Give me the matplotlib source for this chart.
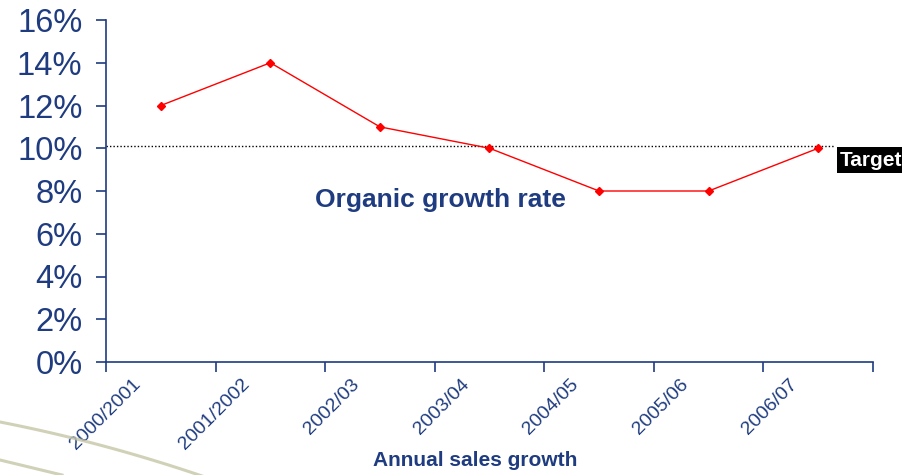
import numpy as np
import matplotlib
matplotlib.use('Agg')
import matplotlib.pyplot as plt
from matplotlib.lines import Line2D
from matplotlib.transforms import ScaledTranslation

plt.rcParams['font.family'] = ['Liberation Sans', 'DejaVu Sans']

BLUE = '#1f3c80'
RED = '#ff0000'

years = ['2000/2001', '2001/2002', '2002/03', '2003/04', '2004/05', '2005/06', '2006/07']
growth = [12, 14, 11, 10, 8, 8, 10]  # organic growth, %
target = 10.1
y_ticks = [0, 2, 4, 6, 8, 10, 12, 14, 16]

fig = plt.figure(figsize=(9.03, 4.75), dpi=100)
ax = fig.add_axes([106 / 903, 1 - 362 / 475, 767 / 903, 342 / 475])

# decorative swoosh bottom-left
t = np.linspace(0, 1, 50)
fig.add_artist(Line2D(t * 205 / 903, (53 - 40 * t - 15 * t * t) / 475,
                      color='#c6c6a6', lw=2.2, alpha=0.8, transform=fig.transFigure))
fig.add_artist(Line2D(t * 62 / 903, (15 - 15 * t) / 475,
                      color='#c6c6a6', lw=2.2, alpha=0.8, transform=fig.transFigure))

x = np.arange(len(years)) + 0.5
ax.plot(x, growth, color=RED, lw=1, marker='D', ms=4.5, zorder=3)
ax.axhline(target, xmin=0, xmax=(len(years) - 0.35) / len(years),
           color='black', ls=(0, (1, 1.5)), lw=1)

ax.set_xlim(0, len(years))
ax.set_ylim(0, 16)
ax.set_yticks(y_ticks)
ax.set_yticklabels([f'{v}%' for v in y_ticks], fontsize=23.5, color=BLUE)
ax.set_xticks(np.arange(len(years) + 1))
ax.set_xticklabels([])
ax.set_xticks(x, minor=True)
ax.set_xticklabels(years, minor=True, rotation=45, ha='right', va='top',
                   rotation_mode='anchor', fontsize=14, color=BLUE)
ax.tick_params(axis='x', which='minor', length=0, pad=10)
ax.tick_params(axis='both', which='major', direction='out', length=7,
               width=1.2, color=BLUE)
ax.tick_params(axis='y', pad=10)

shift = ScaledTranslation(-29 / 100, 0, fig.dpi_scale_trans)
for lbl in ax.get_xticklabels(minor=True):
    lbl.set_transform(lbl.get_transform() + shift)

for side in ['top', 'right']:
    ax.spines[side].set_visible(False)
for side in ['left', 'bottom']:
    ax.spines[side].set_color(BLUE)
    ax.spines[side].set_linewidth(1.2)

ax.text(3.05, 7.6, 'Organic growth rate', fontsize=19, fontweight='bold',
        color=BLUE, ha='center', va='center')
ax.text(6.70, 9.45, 'Target', fontsize=15, fontweight='bold', color='white',
        ha='left', va='center', clip_on=False,
        bbox=dict(facecolor='black', edgecolor='none', pad=2.5))

fig.text(475 / 903, 1 - 461 / 475, 'Annual sales growth', fontsize=15,
         fontweight='bold', color=BLUE, ha='center', va='center')

fig.savefig('out.png', dpi=100)
